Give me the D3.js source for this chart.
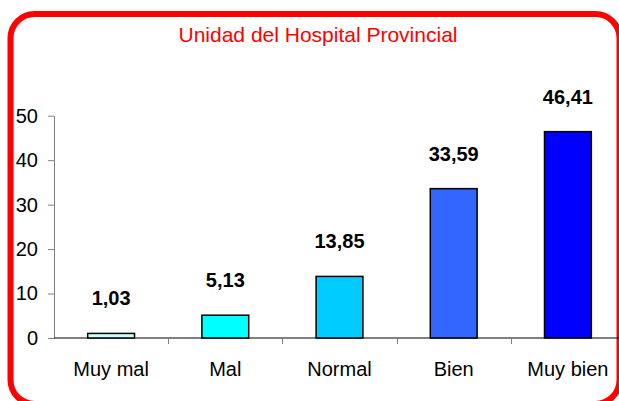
<!DOCTYPE html>
<html>
<head>
<meta charset="utf-8">
<script src="https://cdn.jsdelivr.net/npm/d3@7"></script>
<style>
  html, body { margin: 0; padding: 0; background: #fff; }
  svg { display: block; font-family: "Liberation Sans", Arial, sans-serif; }
</style>
</head>
<body>
<svg width="619" height="401"></svg>
<script>
const categories = ["Muy mal", "Mal", "Normal", "Bien", "Muy bien"]
const values = [1.03, 5.13, 13.85, 33.59, 46.41]
const labels = ["1,03", "5,13", "13,85", "33,59", "46,41"]
const colors = ["#ccffff", "#00ffff", "#00ccff", "#3366ff", "#0000ff"]
const yTicks = [0, 10, 20, 30, 40, 50]

const svg = d3.select("svg")

// red rounded frame (runs past the right/bottom edge like the original)
svg.append("rect")
  .attr("x", 10.5).attr("y", 14)
  .attr("width", 609).attr("height", 390)
  .attr("rx", 24).attr("ry", 24)
  .attr("fill", "none")
  .attr("stroke", "#ff0000")
  .attr("stroke-width", 6)

svg.append("text")
  .attr("x", 318).attr("y", 41.5)
  .attr("text-anchor", "middle")
  .attr("fill", "#ff0000")
  .style("font-size", "21px")
  .text("Unidad del Hospital Provincial")

const x = d3.scaleBand()
  .domain(categories)
  .range([54, 625])
  .padding(0)

const y = d3.scaleLinear()
  .domain([0, 50])
  .range([338, 115.7])

const barW = x.bandwidth() * 0.41

// y axis
const yAxis = svg.append("g")
  .attr("transform", "translate(54,0)")
  .call(d3.axisLeft(y).tickValues(yTicks).tickSize(6).tickPadding(10).tickSizeOuter(0))
yAxis.select(".domain").attr("stroke", "#808080")
yAxis.selectAll(".tick line").attr("stroke", "#808080")
yAxis.selectAll("text")
  .attr("fill", "#000")
  .style("font-size", "20px")
  .style("font-family", "'Liberation Sans', Arial, sans-serif")

// x axis line and category separators
svg.append("line")
  .attr("x1", 54).attr("x2", 625)
  .attr("y1", y(0)).attr("y2", y(0))
  .attr("stroke", "#000").attr("stroke-width", 1)

svg.selectAll("line.sep")
  .data(categories.slice(1))
  .enter()
  .append("line")
  .attr("class", "sep")
  .attr("x1", d => Math.round(x(d)) + 0.5)
  .attr("x2", d => Math.round(x(d)) + 0.5)
  .attr("y1", y(0)).attr("y2", y(0) + 6)
  .attr("stroke", "#808080")

svg.selectAll("text.cat")
  .data(categories)
  .enter()
  .append("text")
  .attr("class", "cat")
  .attr("x", d => x(d) + x.bandwidth() / 2)
  .attr("y", 375.5)
  .attr("text-anchor", "middle")
  .style("font-size", "20px")
  .text(d => d)

// bars
svg.selectAll("rect.bar")
  .data(values)
  .enter()
  .append("rect")
  .attr("class", "bar")
  .attr("x", (d, i) => x(categories[i]) + x.bandwidth() / 2 - barW / 2)
  .attr("y", d => y(d))
  .attr("width", barW)
  .attr("height", d => y(0) - y(d))
  .attr("fill", (d, i) => colors[i])
  .attr("stroke", "#000")
  .attr("stroke-width", 1.5)

svg.selectAll("text.val")
  .data(values)
  .enter()
  .append("text")
  .attr("class", "val")
  .attr("x", (d, i) => x(categories[i]) + x.bandwidth() / 2)
  .attr("y", d => y(d) - 28)
  .attr("text-anchor", "middle")
  .style("font-size", "20px")
  .style("font-weight", "bold")
  .text((d, i) => labels[i])
</script>
</body>
</html>
